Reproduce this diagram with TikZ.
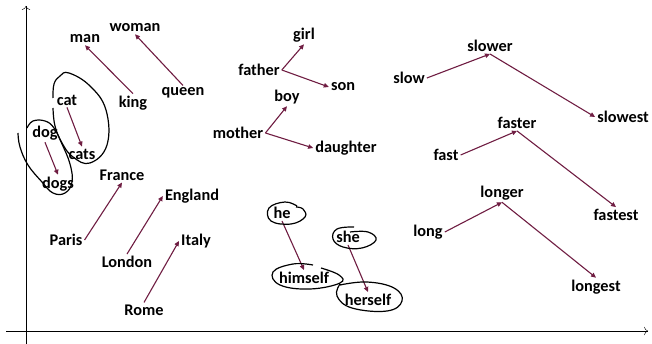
\documentclass[tikz,border=0pt]{standalone}
\usepackage{fontspec}
\setmainfont{Carlito}
\usetikzlibrary{arrows.meta}
\definecolor{vecred}{HTML}{6F1D42}

\begin{document}
\begin{tikzpicture}[x=1pt,y=-1pt,
    word/.style={font=\fontsize{16.3}{18}\selectfont\bfseries,inner sep=2pt},
    vec/.style={draw=vecred,line width=1.1pt,-{Triangle[length=5pt,width=4.5pt]}},
    seg/.style={draw=vecred,line width=1.1pt},
    ring/.style={draw=black,line width=1.2pt}]
    \useasboundingbox (0,0) rectangle (652,344);
    \draw[-{To[length=4pt]}] (6,331)--(648,331);
    \draw[-{To[length=4pt]}] (26,344)--(26,6);

    \node[word] (woman) at (135,28) {woman};
    \node[word] (man) at (85,39) {man};
    \node[word] (king) at (133,103) {king};
    \node[word] (queen) at (183,93) {queen};
    \draw[vec] (king.north)--(man.south);
    \draw[vec] (queen.north)--(woman.south);

    \node[word] (cat) at (67,100) {cat};
    \node[word] (cats) at (82,154) {cats};
    \node[word] (dog) at (45,133) {dog};
    \node[word] (dogs) at (58,184) {dogs};
    \draw[vec] (cat.south)--(cats.north);
    \draw[vec] (dog.south)--(dogs.north);
    \draw[ring] plot[smooth,tension=0.7] coordinates {(53,98) (54,84) (60,76) (69,73) (90,86) (106,110) (107,145) (90,163) (73,157) (62,143) (55,126) (53,108)};
    \draw[ring] plot[smooth,tension=0.7] coordinates {(18,133) (20,147) (28,165) (42,182) (53,193) (65,193) (72,182) (70,164) (62,144) (54,128) (45,121) (33,121) (27,128)};

    \node[word] (France) at (122,175) {France};
    \node[word] (England) at (192,196) {England};
    \node[word] (Paris) at (66,240) {Paris};
    \node[word] (Italy) at (196,241) {Italy};
    \node[word] (London) at (127,262) {London};
    \node[word] (Rome) at (144,310) {Rome};
    \draw[vec] (Paris.east)--(France.south);
    \draw[vec] (London.north)--(England.west);
    \draw[vec] (Rome.north)--(Italy.west);

    \node[word] (girl) at (304,35) {girl};
    \node[word] (father) at (259,70) {father};
    \node[word] (son) at (343,87) {son};
    \node[word] (boy) at (287,97) {boy};
    \node[word] (mother) at (238,133) {mother};
    \node[word] (daughter) at (346,148) {daughter};
    \draw[vec] (father.east)--(girl.south);
    \draw[vec] (father.east)--(son.west);
    \draw[vec] (mother.east)--(boy.south);
    \draw[vec] (mother.east)--(daughter.west);

    \node[word] (he) at (282,213) {he};
    \node[word] (she) at (348,237) {she};
    \node[word] (himself) at (304,278) {himself};
    \node[word] (herself) at (368,300) {herself};
    \draw[vec] (he.south)--(himself.north);
    \draw[vec] (she.south)--(herself.north);
    \draw[ring] plot[smooth,tension=0.7] coordinates {(297,206) (285,202) (269,208) (271,221) (291,224) (305,217) (303,209) (296,207)};
    \draw[ring] plot[smooth,tension=0.7] coordinates {(354,227) (337,229) (333,239) (343,247) (362,248) (376,240) (368,232) (350,232)};
    \draw[ring] plot[smooth,tension=0.7] coordinates {(313,265) (293,264) (273,272) (280,285) (310,289) (340,283) (339,275) (321,268)};
    \draw[ring] plot[smooth,tension=0.7] coordinates {(340,284) (337,296) (352,308) (387,311) (402,301) (394,288) (367,282) (340,285)};

    \node[word] (slower) at (490,46) {slower};
    \node[word] (slow) at (409,78) {slow};
    \node[word] (slowest) at (623,117) {slowest};
    \draw[vec] (slow.east)--(slower.south);
    \draw[vec] (slower.south)--(slowest.west);

    \node[word] (faster) at (517,123) {faster};
    \node[word] (fast) at (446,155) {fast};
    \node[word] (fastest) at (616,215) {fastest};
    \draw[vec] (fast.east)--(faster.south);
    \draw[vec] (faster.south)--(fastest.north);

    \node[word] (longer) at (502,193) {longer};
    \node[word] (long) at (428,232) {long};
    \node[word] (longest) at (596,287) {longest};
    \draw[vec] (long.east)--(longer.south);
    \draw[vec] (longer.south)--(longest.north);
\end{tikzpicture}
\end{document}
